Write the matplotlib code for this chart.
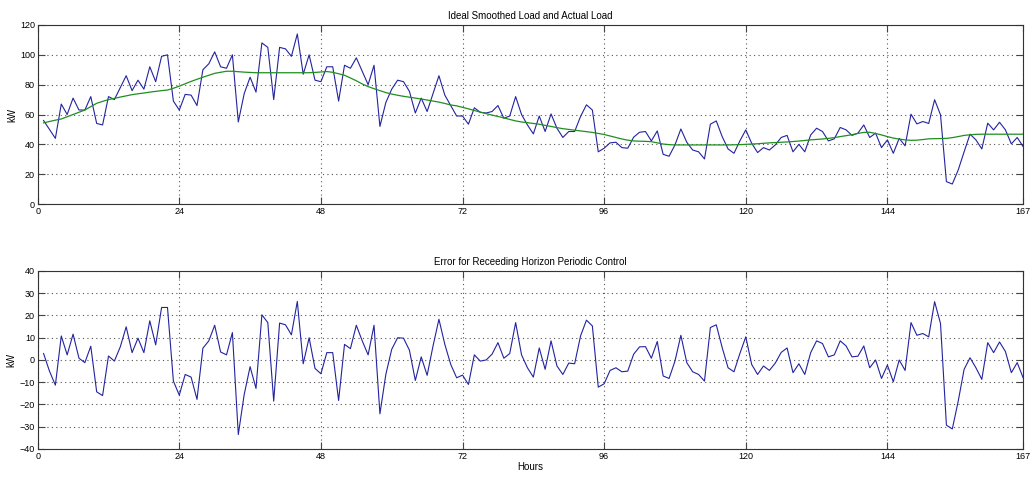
import matplotlib
matplotlib.use('Agg')
import matplotlib.pyplot as plt
import numpy as np

plt.rcParams['font.family'] = ['Liberation Sans', 'DejaVu Sans']

# Hours 1..167
hours = np.arange(1, 168)

actual_load = [
    56, 50, 44, 67, 60, 71, 63, 63, 72, 54,
    53, 72, 70, 78, 86, 76, 83, 77, 92, 82,
    99, 100, 69, 63, 73.5, 73, 66, 90, 94, 102,
    92, 91, 100, 55, 74, 85, 75, 108, 105, 70,
    105, 104, 99, 114, 87, 100, 83, 82, 92, 92,
    69, 93, 91, 98, 89, 80, 93, 52, 68, 77,
    83, 82, 75.5, 61, 71, 62, 74, 86, 73, 66,
    59, 59, 53.5, 64.5, 61.5, 61, 62, 66, 57.5, 59,
    72, 60, 53, 47, 59, 48.6, 60.4, 50.8, 44.6, 48.6,
    48.6, 58.7, 66.5, 63, 35, 37.4, 41, 41.4, 37.8, 37.4,
    44.8, 48.1, 48.6, 42.3, 49, 33.3, 32, 39.6, 50.3, 41.4,
    36.2, 35, 30.2, 53.5, 55.7, 45.2, 36.9, 34, 42.3, 49.7,
    40.7, 34.5, 37.8, 36.2, 39.6, 44.6, 46, 35, 40, 35,
    46.3, 50.8, 48.6, 42.3, 43.7, 51.3, 49.7, 46, 47.5, 53,
    44.6, 47.5, 37.8, 43, 34, 44, 39, 60.2, 53.7, 55.3,
    54, 69.9, 59.8, 15, 13.4, 22.8, 35, 46.8, 43, 36.9,
    54.2, 49.7, 54.8, 49.7, 40.3, 44.6, 38.5,
]

smoothed_load = [
    54.4, 55.3, 56.2, 57, 58.5, 60, 61.5, 63, 65.3, 67.5,
    68.8, 70, 70.8, 71.7, 72.5, 73.3, 73.9, 74.4, 75, 75.5,
    76, 76.4, 77.6, 79, 80.6, 82.2, 83.6, 85, 86.3, 87.6,
    88.3, 89, 89, 88.7, 88.4, 88.2, 88, 88, 88, 88,
    88, 88, 88, 88, 88, 88, 88.2, 88.5, 88.8, 88.3,
    87.3, 86.3, 84.5, 82.6, 80.5, 78.7, 77.3, 76, 74.7, 73.7,
    72.9, 72.2, 71.6, 71, 70.4, 69.7, 69, 68.3, 67.4, 66.4,
    65.8, 64.8, 63.8, 62.7, 61.6, 60.6, 59.6, 58.7, 57.7, 56.7,
    55.7, 55, 54.5, 54, 53.5, 52.7, 52, 51.2, 50.5, 50,
    49.5, 49, 48.5, 48, 47.3, 46.6, 45.6, 44.6, 43.6, 42.8,
    42.3, 42.1, 42, 41.8, 41, 40.2, 39.8, 39.6, 39.6, 39.6,
    39.6, 39.6, 39.6, 39.6, 39.6, 39.6, 39.6, 39.7, 39.8, 40,
    40.2, 40.4, 40.7, 41, 41.2, 41.4, 41.6, 41.9, 42.2, 42.6,
    43, 43.3, 43.6, 44, 44.5, 45.2, 45.8, 46.5, 47.3, 48,
    48.1, 47.3, 46.3, 45.2, 44.2, 43.5, 43, 42.7, 42.8, 43.2,
    43.7, 43.8, 43.9, 44, 44.5, 45.2, 46, 46.4, 46.7, 46.8,
    46.8, 46.8, 46.8, 46.8, 46.8, 46.8, 46.8,
]

error = [
    2.9, -5, -11.3, 10.8, 2.3, 11.6, 0.8, -1.2, 6.2, -14.3,
    -16, 1.8, -0.5, 5.9, 14.9, 3.3, 9.8, 3.3, 17.6, 6.8,
    23.6, 23.6, -9.5, -15.8, -6.5, -7.7, -17.7, 5.3, 8.6, 15.6,
    3.6, 2.3, 12.3, -33.5, -15.5, -3, -12.8, 20.3, 16.8, -18.5,
    16.6, 15.8, 11.3, 26.3, -1.7, 10, -3.8, -6.2, 3.3, 3.3,
    -18.2, 7, 5.1, 15.6, 8.6, 2.3, 15.6, -24.2, -6.5, 4.8,
    10, 9.8, 4.4, -9.2, 1.4, -6.9, 6.3, 18.3, 7, -2,
    -8, -6.8, -11, 2.3, -0.5, 0, 2.6, 7.8, 0.8, 2.9,
    16.8, 2.3, -3.5, -7.7, 5.4, -4.2, 8.6, -2.7, -6.5, -1.4,
    -1.7, 10.8, 17.9, 15.3, -12.2, -10.7, -4.7, -3.5, -5.3, -5,
    2.6, 5.9, 6, 0.8, 8.3, -7.2, -8.3, -0.5, 11.1, -1.2,
    -5.3, -6.5, -9.5, 14.6, 15.8, 5.6, -3.5, -5.3, 2.9, 10.4,
    -2, -6.5, -2.7, -4.7, -1.4, 3.4, 5.4, -5.7, -1.7, -6.5,
    3.3, 8.6, 7.4, 1.4, 2.3, 8.6, 6.3, 1.4, 1.7, 6.3,
    -3.5, 0, -8.3, -2.3, -9.8, 0, -4.7, 16.8, 11.1, 11.9,
    10.4, 26.2, 16.4, -29.3, -31, -18.5, -4.2, 1, -3.5, -8.7,
    7.8, 3.3, 8.1, 3.8, -5.7, -1.2, -8,
]

x_ticks = [0, 24, 48, 72, 96, 120, 144, 167]

blue = '#2323a0'
green = '#1f8f1f'

fig = plt.figure(figsize=(10.32, 4.78), dpi=100, facecolor='white')
ax1 = fig.add_axes([0.0365, 0.5732, 0.9549, 0.3745])
ax2 = fig.add_axes([0.0365, 0.0607, 0.9549, 0.3724])

ax1.plot(hours, actual_load, color=blue, linewidth=0.8)
ax1.plot(hours, smoothed_load, color=green, linewidth=0.9)
ax1.set_ylim(0, 120)
ax1.set_yticks(range(0, 121, 20))
ax1.set_title('Ideal Smoothed Load and Actual Load', fontsize=7, pad=4)
ax1.set_ylabel('kW', fontsize=7, labelpad=2)

ax2.plot(hours, error, color=blue, linewidth=0.8)
ax2.set_ylim(-40, 40)
ax2.set_yticks(range(-40, 41, 10))
ax2.set_title('Error for Receeding Horizon Periodic Control', fontsize=7, pad=4)
ax2.set_ylabel('kW', fontsize=7, labelpad=2)
ax2.set_xlabel('Hours', fontsize=7, labelpad=1)

for ax in (ax1, ax2):
    ax.set_xlim(0, 167)
    ax.set_xticks(x_ticks)
    ax.grid(True, linestyle=(0, (1, 3)), color='#555555', linewidth=0.8)
    ax.tick_params(direction='in', top=True, right=True, length=5,
                   width=0.8, labelsize=6.5, pad=2, color='#444444')
    for s in ax.spines.values():
        s.set_linewidth(0.8)
        s.set_color('#333333')

fig.savefig('out.png', dpi=100, facecolor='white')
